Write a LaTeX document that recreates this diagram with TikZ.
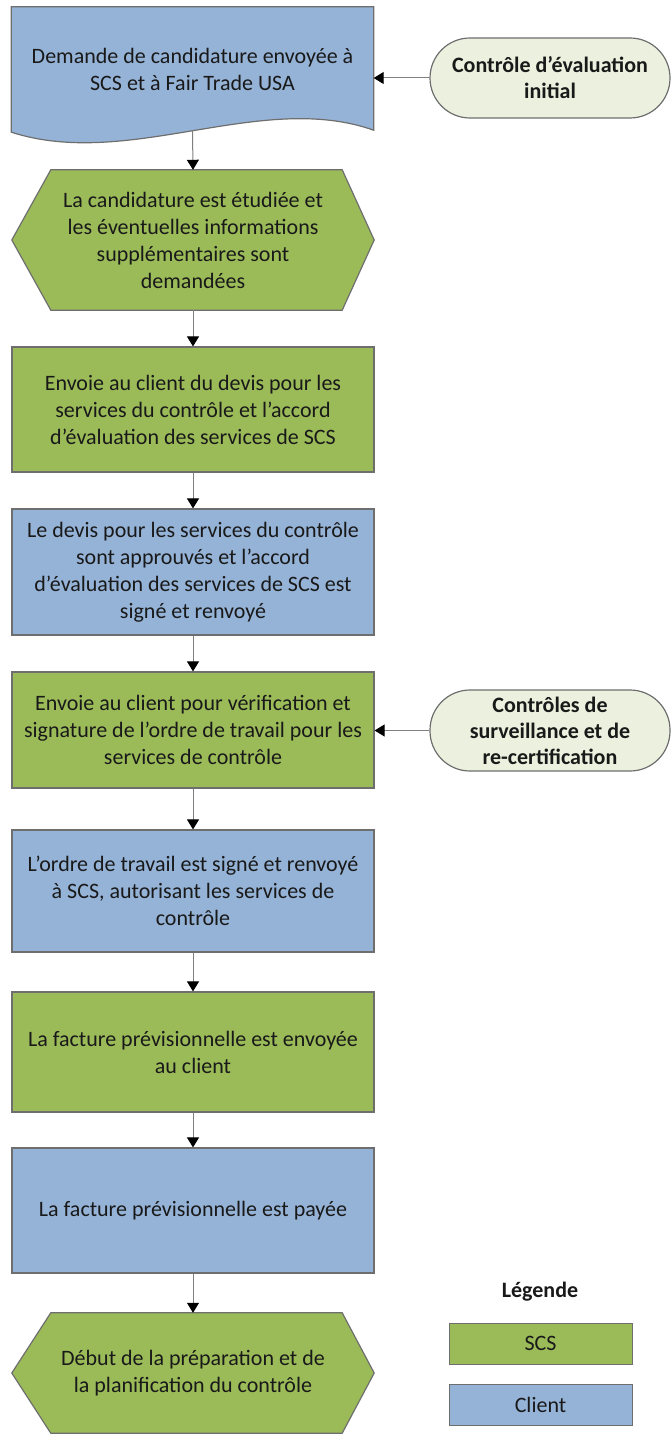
\documentclass[tikz,border=0pt]{standalone}
\usepackage{fontspec}
\setmainfont{Carlito}
\usepackage{tikz}
\usetikzlibrary{arrows.meta,backgrounds}
\definecolor{scsgreen}{HTML}{9BBB59}
\definecolor{clientblue}{HTML}{95B3D7}
\definecolor{termfill}{HTML}{EBF1DE}
\definecolor{bordergray}{HTML}{6E6E6E}
\definecolor{linegray}{HTML}{7F7F7F}

\begin{document}
\begin{tikzpicture}[x=1pt,y=-1pt,
  txt/.style={font=\fontsize{22}{27}\selectfont,text=black!90,align=center},
  forme/.style={txt,minimum width=362pt},
  bord/.style={draw=bordergray,line width=1.2pt},
  scs/.style={forme,bord,fill=scsgreen},
  client/.style={forme,bord,fill=clientblue},
  terminal/.style={txt,font=\fontsize{22}{26}\selectfont\bfseries,bord,fill=termfill,inner sep=1pt,minimum width=240pt,minimum height=80pt,rounded corners=40pt},
  legende/.style={txt,draw=bordergray,line width=1pt,minimum width=183pt,minimum height=41pt},
  fleche/.style={draw=linegray,line width=1pt,-{Triangle[length=10pt,width=12pt,color=black]}}]
  \useasboundingbox (0,0) rectangle (671,1439);

  \node[forme,minimum height=125pt] (demande) at (192.5,69.5) {Demande de candidature envoyée à\\SCS et à Fair Trade USA};
  \node[terminal] (initial) at (550,78) {Contrôle d’évaluation\\initial};
  \node[forme,minimum height=140pt] (etude) at (193,240) {La candidature est étudiée et\\les éventuelles informations\\supplémentaires sont\\demandées};
  \node[scs,minimum height=125pt] (devis) at (193,409.5) {Envoie au client du devis pour les\\services du contrôle et l’accord\\d’évaluation des services de SCS};
  \node[client,minimum height=126pt] (accord) at (193,572) {Le devis pour les services du contrôle\\sont approuvés et l’accord\\d’évaluation des services de SCS est\\signé et renvoyé};
  \node[scs,minimum height=116pt] (ordre) at (193,730) {Envoie au client pour vérification et\\signature de l’ordre de travail pour les\\services de contrôle};
  \node[terminal,minimum height=81pt] (suivi) at (550,730.5) {Contrôles de\\surveillance et de\\re-certification};
  \node[client,minimum height=122pt] (signe) at (193,891) {L’ordre de travail est signé et renvoyé\\à SCS, autorisant les services de\\contrôle};
  \node[scs,minimum height=120pt] (facture) at (193,1052) {La facture prévisionnelle est envoyée\\au client};
  \node[client,minimum height=125pt] (payee) at (193,1210.5) {La facture prévisionnelle est payée};
  \node[forme,minimum height=120pt] (prepa) at (193,1373) {Début de la préparation et de\\la planification du contrôle};

  \node[txt,font=\fontsize{22}{27}\selectfont\bfseries] (titre) at (540,1292) {Légende};
  \node[legende,fill=scsgreen] (lscs) at (540.5,1343.5) {SCS};
  \node[legende,fill=clientblue] (lclient) at (540.5,1404.5) {Client};

  \begin{pgfonlayer}{background}
    \filldraw[bord,fill=clientblue] (demande.north west) -- (demande.north east) -- ([yshift=2pt]demande.south east) .. controls +(-113,-40) and +(118,38) .. (demande.south west) -- cycle;
    \filldraw[bord,fill=scsgreen] ([xshift=39pt]etude.north west) -- ([xshift=-32pt]etude.north east) -- (etude.east) -- ([xshift=-32pt]etude.south east) -- ([xshift=39pt]etude.south west) -- (etude.west) -- cycle;
    \filldraw[bord,fill=scsgreen] ([xshift=39pt]prepa.north west) -- ([xshift=-32pt]prepa.north east) -- (prepa.east) -- ([xshift=-32pt]prepa.south east) -- ([xshift=39pt]prepa.south west) -- (prepa.west) -- cycle;
  \end{pgfonlayer}

  \draw[fleche] ([yshift=2pt]demande.south) -- (etude.north);
  \draw[fleche] (initial.west) -- (initial.west -| demande.east);
  \draw[fleche] (etude.south) -- (devis.north);
  \draw[fleche] (devis.south) -- (accord.north);
  \draw[fleche] (accord.south) -- (ordre.north);
  \draw[fleche] (suivi.west) -- (suivi.west -| ordre.east);
  \draw[fleche] (ordre.south) -- (signe.north);
  \draw[fleche] (signe.south) -- (facture.north);
  \draw[fleche] (facture.south) -- (payee.north);
  \draw[fleche] (payee.south) -- (prepa.north);
\end{tikzpicture}
\end{document}
